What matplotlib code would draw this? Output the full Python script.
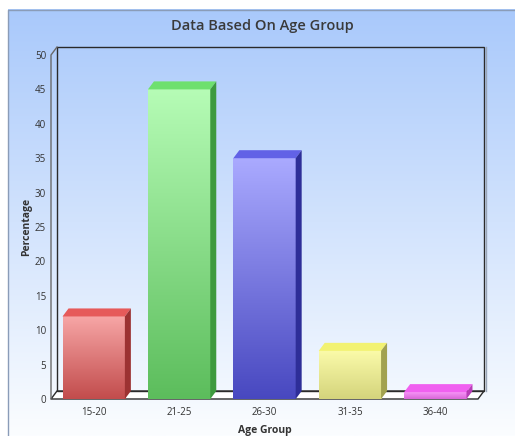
import numpy as np
import matplotlib
matplotlib.use('Agg')
import matplotlib.pyplot as plt
from matplotlib.colors import LinearSegmentedColormap
from matplotlib.patches import Polygon, Rectangle

age_groups = ['15-20', '21-25', '26-30', '31-35', '36-40']
percentage = [12, 45, 35, 7, 1]

# per-bar shading: front face top/bottom, top face, side face
front_top = ['#f7a6a6', '#b6fcb6', '#aaaaff', '#fbfbaa', '#f794f7']
front_bottom = ['#c24c4c', '#5cbd5c', '#4848c0', '#d4d47c', '#d866d8']
top_colors = ['#e65a5a', '#6ee06e', '#6262e6', '#f2f272', '#f060f0']
side_colors = ['#9c3232', '#3e9a3e', '#2e2e98', '#a2a250', '#b83cb8']

W, H = 515, 436
FONT = 'Open Sans'
TXT = '#333333'

fig = plt.figure(figsize=(W / 100, H / 100), dpi=100)

# panel background with a vertical blue-to-white gradient
bg = fig.add_axes([0, 0, 1, 1])
grad = np.linspace(0, 1, 256).reshape(-1, 1)
bg_cmap = LinearSegmentedColormap.from_list('bg', ['#a9c9fb', '#fbfdff'])
bg.imshow(grad, extent=(8, W, H, 10), aspect='auto', cmap=bg_cmap)
bg.plot([8, 8, W], [H, 10, 10], color='#8a9cb8', lw=1)
bg.set_xlim(0, W)
bg.set_ylim(H, 0)
bg.axis('off')

fig.text(262.5 / W, 1 - 26 / H, 'Data Based On Age Group', ha='center', va='center',
         fontsize=10.5, fontweight='semibold', color='#3a3a3a', family=FONT)

# front plane of the plot box
ax_l, ax_r = 51 / W, 478 / W
ax_b, ax_t = 1 - 399 / H, 1 - 55 / H
ax = fig.add_axes([ax_l, ax_b, ax_r - ax_l, ax_t - ax_b])
ax.patch.set_visible(False)
for s in ax.spines.values():
    s.set_visible(False)

n = len(age_groups)
ymax = 50
# depth of the pseudo-3d box, pixels converted to data units
ddx = 6 / ((ax_r - ax_l) * W / n)
ddy = 8 / ((ax_t - ax_b) * H / ymax)
x_lo, x_hi = -0.5, n - 0.5

frame = dict(edgecolor='#2a2a2a', lw=1, clip_on=False)
ax.add_patch(Polygon([(x_lo, 0), (x_hi, 0), (x_hi + ddx, ddy), (x_lo + ddx, ddy)],
                     facecolor='white', zorder=1, **frame))
ax.add_patch(Rectangle((x_lo + ddx, ddy), x_hi - x_lo, ymax, facecolor='none', zorder=1, **frame))
# thin left wall: lighter front edge
ax.plot([x_lo, x_lo, x_lo + ddx], [0, ymax, ymax + ddy], color='#6a6a6a', lw=1,
        clip_on=False, zorder=1)
ax.plot([x_hi + ddx * 1.3] * 2, [ddy, ymax + ddy], color='#9aa6b8', lw=1, clip_on=False, zorder=1)

bw = 0.73
for i, v in enumerate(percentage):
    x0, x1 = i - bw / 2, i + bw / 2
    cmap = LinearSegmentedColormap.from_list('bar%d' % i, [front_top[i], front_bottom[i]])
    ax.imshow(grad, extent=(x0, x1, 0, v), aspect='auto', cmap=cmap, zorder=3)
    ax.add_patch(Polygon([(x0, v), (x1, v), (x1 + ddx, v + ddy), (x0 + ddx, v + ddy)],
                         facecolor=top_colors[i], edgecolor='none', zorder=3, clip_on=False))
    ax.add_patch(Polygon([(x1, 0), (x1, v), (x1 + ddx, v + ddy), (x1 + ddx, ddy)],
                         facecolor=side_colors[i], edgecolor='none', zorder=3, clip_on=False))

ax.set_xlim(x_lo, x_hi)
ax.set_ylim(0, ymax)
ax.set_xticks(range(n), age_groups)
ax.set_yticks(range(0, ymax + 1, 5))
ax.tick_params(length=0, labelsize=7, labelcolor=TXT)
ax.tick_params(axis='x', pad=5.5)
ax.tick_params(axis='y', pad=3.5)
for lab in ax.get_xticklabels() + ax.get_yticklabels():
    lab.set_family(FONT)

fig.text(26.5 / W, 1 - 227 / H, 'Percentage', rotation=90, ha='center', va='center',
         fontsize=7.5, fontweight='bold', color=TXT, family=FONT)
fig.text(264.5 / W, 1 - 430 / H, 'Age Group', ha='center', va='center',
         fontsize=7.5, fontweight='bold', color=TXT, family=FONT)

fig.savefig('out.png', dpi=100)
